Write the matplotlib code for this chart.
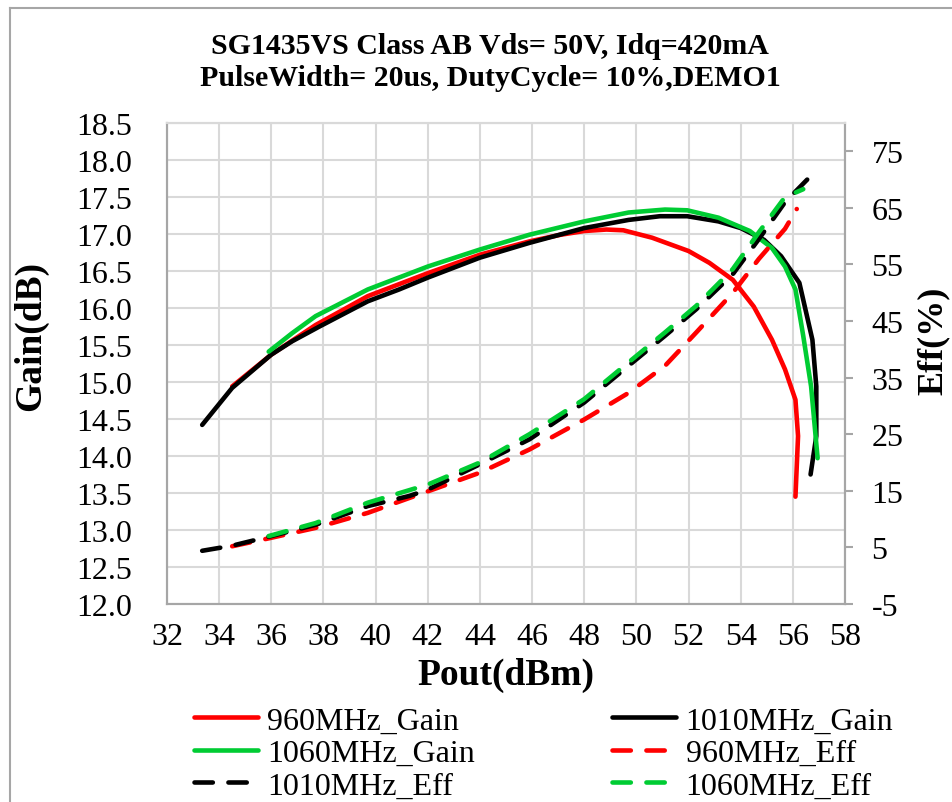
import matplotlib
matplotlib.use("Agg")
import matplotlib.pyplot as plt
from matplotlib.lines import Line2D

plt.rcParams['font.family'] = 'Liberation Serif'
plt.rcParams['axes.unicode_minus'] = False

# ---- data ----
pout_960_gain = [34.5, 36.0, 37.7, 39.7, 42.0, 44.0, 45.9, 47.1, 48.0, 48.85, 49.5, 50.6, 52.0, 52.8, 53.7, 54.5, 55.2, 55.7, 56.1, 56.2, 56.1]
gain_960 = [14.94, 15.37, 15.77, 16.16, 16.47, 16.72, 16.90, 16.99, 17.04, 17.06, 17.05, 16.95, 16.77, 16.61, 16.38, 16.02, 15.57, 15.17, 14.76, 14.27, 13.45]

pout_1010_gain = [33.35, 34.5, 36.0, 36.8, 37.85, 39.7, 40.9, 42.0, 44.0, 45.9, 48.0, 49.7, 50.9, 51.95, 53.15, 54.0, 54.9, 55.55, 56.25, 56.75, 56.9, 56.9, 56.68]
gain_1010 = [14.42, 14.92, 15.37, 15.55, 15.75, 16.09, 16.25, 16.41, 16.68, 16.88, 17.08, 17.19, 17.24, 17.24, 17.17, 17.08, 16.92, 16.70, 16.34, 15.57, 14.94, 14.27, 13.75]

pout_1060_gain = [35.9, 36.8, 37.7, 39.7, 42.0, 44.0, 45.9, 48.0, 49.7, 51.1, 51.95, 53.15, 54.35, 55.2, 55.7, 56.1, 56.4, 56.7, 56.95]
gain_1060 = [15.41, 15.66, 15.89, 16.25, 16.56, 16.79, 16.99, 17.17, 17.29, 17.33, 17.32, 17.22, 17.04, 16.81, 16.56, 16.25, 15.62, 14.94, 13.97]

pout_960_eff = [34.5, 36.0, 37.7, 39.7, 42.0, 44.0, 45.9, 48.0, 49.7, 51.1, 52.3, 53.7, 54.7, 55.7, 56.15]
eff_960 = [5.2, 6.7, 8.45, 11.1, 14.9, 18.2, 22.3, 27.6, 32.3, 37.1, 43.0, 50.0, 56.0, 61.3, 64.8]

pout_1010_eff = [33.35, 34.5, 36.0, 37.7, 39.7, 41.3, 42.0, 44.0, 45.9, 48.0, 49.7, 51.1, 52.3, 53.7, 54.7, 55.7, 56.7]
eff_1010 = [4.4, 5.3, 7.0, 9.0, 12.3, 14.1, 15.2, 19.7, 24.1, 30.6, 37.1, 42.4, 47.1, 53.3, 59.5, 66.0, 70.7]

pout_1060_eff = [35.9, 37.7, 39.7, 42.0, 44.0, 45.9, 48.0, 49.7, 51.1, 52.3, 53.7, 54.7, 55.7, 56.4]
eff_1060 = [7.0, 9.3, 12.9, 16.1, 20.0, 25.0, 31.2, 37.7, 43.0, 47.7, 54.2, 60.7, 66.9, 68.3]

x_ticks = list(range(32, 59, 2))
gain_ticks = [12.0 + 0.5 * i for i in range(14)]
eff_ticks = list(range(-5, 76, 10))

title = "SG1435VS Class AB Vds= 50V, Idq=420mA\nPulseWidth= 20us, DutyCycle= 10%,DEMO1"

RED = '#ff0000'
BLACK = '#000000'
GREEN = '#00cc33'
GRID = '#d9d9d9'
SPINE = '#a6a6a6'

fig = plt.figure(figsize=(9.52, 8.03), dpi=100)
ax = fig.add_axes([0.1754, 0.2466, 0.7122, 0.5990])
ax2 = ax.twinx()

lw = 3.3
h1, = ax.plot(pout_960_gain, gain_960, color=RED, lw=lw, solid_capstyle='round', solid_joinstyle='round', label='960MHz_Gain')
h2, = ax.plot(pout_1010_gain, gain_1010, color=BLACK, lw=lw, solid_capstyle='round', solid_joinstyle='round', label='1010MHz_Gain')
h3, = ax.plot(pout_1060_gain, gain_1060, color=GREEN, lw=lw, solid_capstyle='round', solid_joinstyle='round', label='1060MHz_Gain')

dash = (0, (4.0, 3.4))
h4, = ax2.plot(pout_960_eff, eff_960, color=RED, lw=lw, linestyle=dash, dash_capstyle='round', label='960MHz_Eff')
h5, = ax2.plot(pout_1010_eff, eff_1010, color=BLACK, lw=lw, linestyle=dash, dash_capstyle='round', label='1010MHz_Eff')
h6, = ax2.plot(pout_1060_eff, eff_1060, color=GREEN, lw=lw, linestyle=dash, dash_capstyle='round', label='1060MHz_Eff')

ax.set_xlim(32, 58)
ax.set_ylim(12.0, 18.5)
ax2.set_ylim(-5, 80)
ax.set_xticks(x_ticks)
ax.set_yticks(gain_ticks)
ax.set_yticklabels([f"{v:.1f}" for v in gain_ticks])
ax2.set_yticks(eff_ticks)

ax.grid(True, color=GRID, lw=1.5)
ax.set_axisbelow(True)

for a in (ax, ax2):
    for s in a.spines.values():
        s.set_color(SPINE)
        s.set_linewidth(1.5)
    a.spines['top'].set_color(GRID)
ax.tick_params(axis='y', length=0, labelsize=23, pad=25)
ax.tick_params(axis='x', length=0, labelsize=23, pad=13)
ax2.tick_params(axis='y', length=6, width=1.5, color=SPINE, labelsize=23, pad=13, direction='out')

ax.set_xlabel('Pout(dBm)', fontsize=27, fontweight='bold', labelpad=4)
ax.set_ylabel('Gain(dB)', fontsize=27, fontweight='bold')
ax.yaxis.set_label_coords(-0.1755, 0.56)
ax2.set_ylabel('Eff(%)', fontsize=26, fontweight='bold', rotation=90)
ax2.yaxis.set_label_coords(1.106, 0.55)

fig.text(0.515, 1 - 62.5 / 803, title, ha='center', va='center', fontsize=21.5, fontweight='bold', linespacing=1.25)

handles = [h1, h3, h5, h2, h4, h6]
leg = fig.legend(handles=handles, labels=[h.get_label() for h in handles], ncol=2, loc='lower left',
                 bbox_to_anchor=(0.19, -0.014), frameon=False, fontsize=23, handlelength=2.0,
                 handletextpad=0.3, columnspacing=4.3, labelspacing=0.1, borderaxespad=0)

fig.add_artist(Line2D([9.5 / 952, 9.5 / 952], [0, 1 - 9 / 803], transform=fig.transFigure, color=SPINE, lw=1.5))
fig.add_artist(Line2D([9.5 / 952, 1], [1 - 9 / 803, 1 - 9 / 803], transform=fig.transFigure, color=SPINE, lw=1.5))

fig.savefig('out.png', dpi=100)
